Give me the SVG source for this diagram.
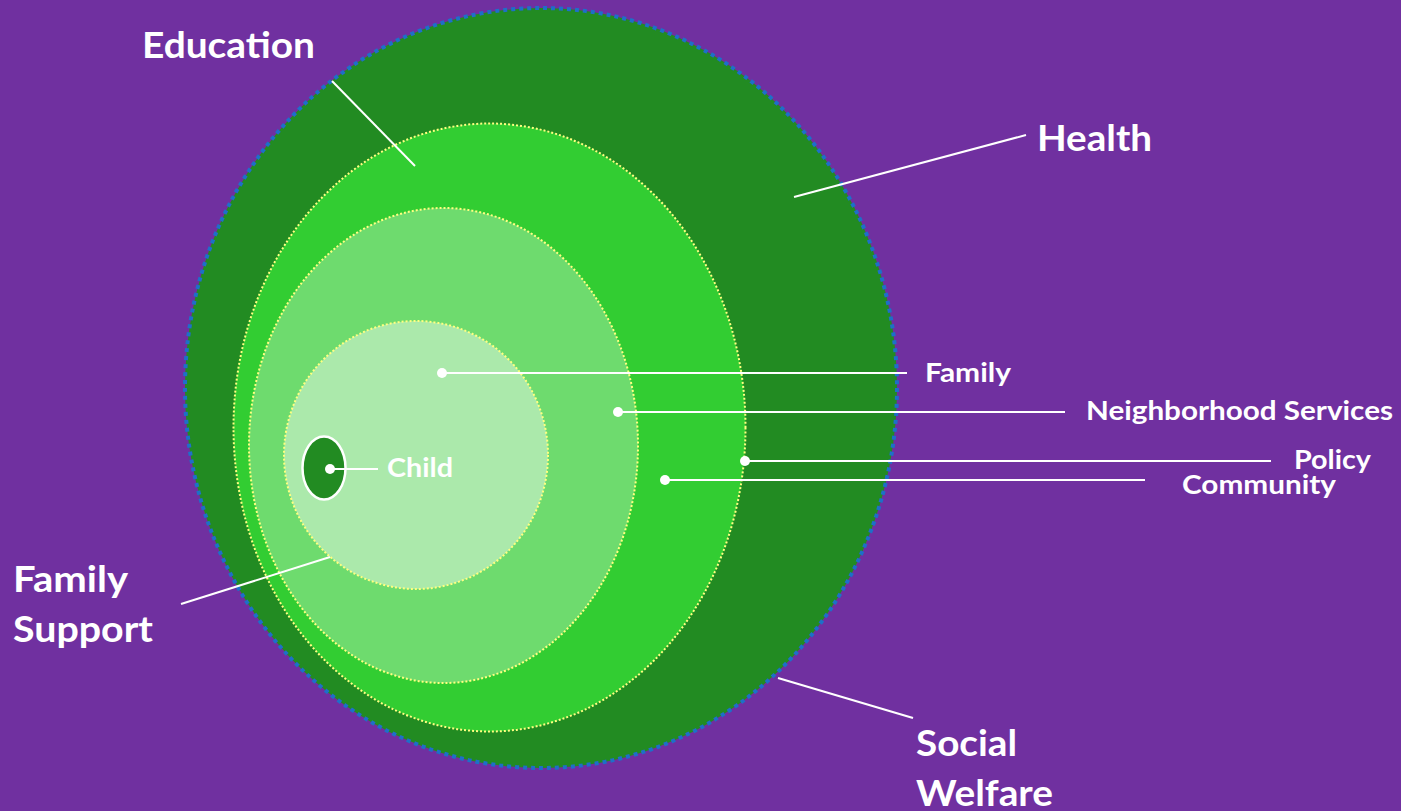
<svg xmlns="http://www.w3.org/2000/svg" width="1401" height="811" viewBox="0 0 1401 811">
<style>
.lbl{font-family:Lato,"Liberation Sans",sans-serif;font-weight:bold;fill:#fff}
.big{font-size:37px}
.sm{font-size:27px}
.ln{stroke:#fff;stroke-width:2;fill:none}
.dot{fill:#fff}
.yb{stroke:#FFFF80;stroke-width:2;stroke-dasharray:2 2}
</style>
<rect width="1401" height="811" fill="#7030A0"/>
<g id="health-ring">
<ellipse cx="541" cy="388" rx="356" ry="380" fill="#228B22" stroke="#1E6FC8" stroke-width="4" stroke-dasharray="4 4"/>
</g>
<g id="community-ring">
<ellipse cx="489.5" cy="427.5" rx="256" ry="304" fill="#32CD32" class="yb"/>
</g>
<g id="neighborhood-ring">
<ellipse cx="443.5" cy="445.5" rx="194.5" ry="237.5" fill="#6EDB6E" class="yb"/>
</g>
<g id="family-ring">
<ellipse cx="416" cy="455" rx="132" ry="134" fill="#ABE9AB" class="yb"/>
</g>
<g id="child">
<ellipse cx="324" cy="468" rx="21.5" ry="31.5" fill="#228B22" stroke="#fff" stroke-width="2.5"/>
</g>
<g id="connectors">
<line class="ln" x1="332" y1="81" x2="415" y2="166"/>
<line class="ln" x1="794" y1="197" x2="1026" y2="135"/>
<line class="ln" x1="442" y1="373" x2="907" y2="373"/>
<circle class="dot" cx="442" cy="373" r="5"/>
<line class="ln" x1="618" y1="412" x2="1065" y2="412"/>
<circle class="dot" cx="618" cy="412" r="5"/>
<line class="ln" x1="745" y1="461" x2="1271" y2="461"/>
<circle class="dot" cx="745" cy="461" r="5"/>
<line class="ln" x1="665" y1="480" x2="1145" y2="480"/>
<circle class="dot" cx="665" cy="480" r="5"/>
<line class="ln" x1="330" y1="469" x2="378" y2="469"/>
<circle class="dot" cx="330" cy="469" r="5"/>
<line class="ln" x1="181" y1="604" x2="330" y2="557"/>
<line class="ln" x1="778" y1="678" x2="913" y2="718"/>
</g>
<g id="labels">
<text class="lbl big" x="142" y="58" textLength="173" lengthAdjust="spacingAndGlyphs">Education</text>
<text class="lbl big" x="1037" y="151" textLength="115" lengthAdjust="spacingAndGlyphs">Health</text>
<text class="lbl sm" x="925" y="382" textLength="86" lengthAdjust="spacingAndGlyphs">Family</text>
<text class="lbl sm" x="1086" y="420" textLength="307" lengthAdjust="spacingAndGlyphs">Neighborhood Services</text>
<text class="lbl sm" x="1294" y="469" textLength="77" lengthAdjust="spacingAndGlyphs">Policy</text>
<text class="lbl sm" x="1182" y="494" textLength="154" lengthAdjust="spacingAndGlyphs">Community</text>
<text class="lbl sm" x="387" y="477" textLength="66" lengthAdjust="spacingAndGlyphs">Child</text>
<text class="lbl big" x="13" y="592" textLength="115" lengthAdjust="spacingAndGlyphs">Family</text>
<text class="lbl big" x="13" y="642" textLength="140" lengthAdjust="spacingAndGlyphs">Support</text>
<text class="lbl big" x="916" y="756" textLength="101" lengthAdjust="spacingAndGlyphs">Social</text>
<text class="lbl big" x="916" y="806" textLength="137" lengthAdjust="spacingAndGlyphs">Welfare</text>
</g>
</svg>
